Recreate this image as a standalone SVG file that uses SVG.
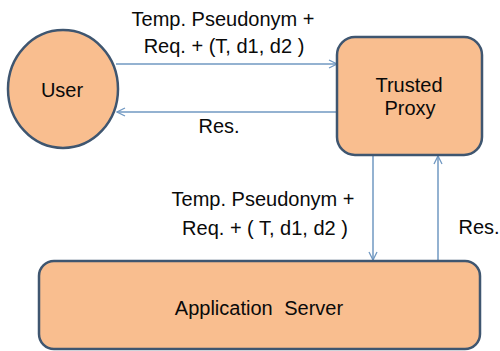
<svg xmlns="http://www.w3.org/2000/svg" width="500" height="351" viewBox="0 0 500 351">
<style>
.n{fill:#F9BE8F;stroke:#3F5670;stroke-width:2.5}
.c{stroke:#7098C2;stroke-width:1.5;fill:none;marker-end:url(#ah)}
text{font-family:"Liberation Sans",Arial,sans-serif;font-size:20px;fill:#0a0a0a;text-anchor:middle}
</style>
<defs>
<marker id="ah" viewBox="0 0 10 10" refX="9" refY="5" markerWidth="10" markerHeight="10" markerUnits="userSpaceOnUse" orient="auto">
<path d="M1,1 L9,5 L1,9" fill="none" stroke="#7098C2" stroke-width="1.3"/>
</marker>
</defs>
<g id="connectors">
<line class="c" x1="116" y1="64" x2="337" y2="64"/>
<line class="c" x1="337" y1="112" x2="117" y2="112"/>
<line class="c" x1="373" y1="156" x2="373" y2="260"/>
<line class="c" x1="438" y1="260" x2="438" y2="156"/>
<text x="223" y="26">Temp. Pseudonym +</text>
<text x="224" y="53">Req. + (T, d1, d2 )</text>
<text x="219" y="133">Res.</text>
<text x="263" y="206">Temp. Pseudonym +</text>
<text x="265" y="235">Req. + ( T, d1, d2 )</text>
<text x="479" y="234">Res.</text>
</g>
<g id="user">
<ellipse class="n" cx="63" cy="89" rx="55" ry="59"/>
<text x="62" y="97">User</text>
</g>
<g id="proxy">
<rect class="n" x="337" y="37" width="145" height="118" rx="18"/>
<text x="409" y="92">Trusted</text>
<text x="410" y="115">Proxy</text>
</g>
<g id="server">
<rect class="n" x="39" y="261" width="441" height="88" rx="15"/>
<text x="259" y="315" word-spacing="6">Application Server</text>
</g>
</svg>
